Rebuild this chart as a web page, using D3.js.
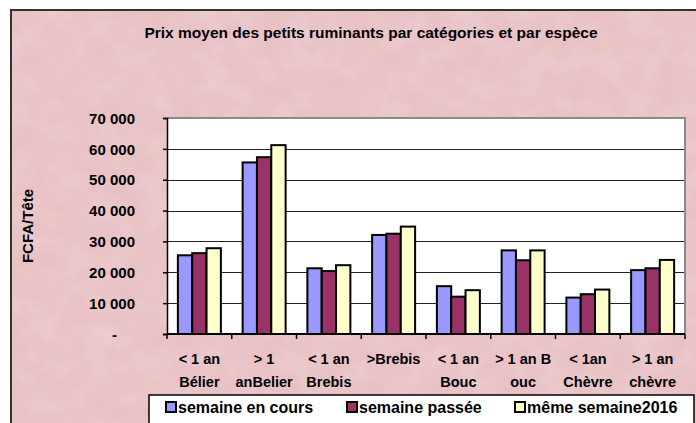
<!DOCTYPE html>
<html>
<head>
<meta charset="utf-8">
<script src="https://cdn.jsdelivr.net/npm/d3@7"></script>
<style>
  body { margin: 0; background: #fff; }
  text { font-family: Arial, "Liberation Sans", sans-serif; font-weight: bold; fill: #000; }
</style>
</head>
<body>
<script>
// chart data
var categories = [
    ["< 1 an", "Bélier"],
    ["> 1", "anBelier"],
    ["< 1 an", "Brebis"],
    [">Brebis", ""],
    ["< 1 an", "Bouc"],
    ["> 1 an B", "ouc"],
    ["< 1an", "Chèvre"],
    ["> 1 an", "chèvre"]
];
var series = ["semaine en cours", "semaine passée", "même semaine2016"];
var colors = ["#9999ff", "#993366", "#ffffcc"];
var enCours = [25500, 55600, 21300, 32100, 15500, 27100, 11800, 20700];
var passee  = [26200, 57300, 20400, 32500, 12100, 23900, 12900, 21300];
var s2016   = [27800, 61200, 22300, 34800, 14200, 27100, 14400, 24000];
var yTicks = [0, 10000, 20000, 30000, 40000, 50000, 60000, 70000];

var values = [enCours, passee, s2016];

// layout
var W = 696, H = 423;
var plot = {l: 167, r: 685, t: 118, b: 334};

var svg = d3.select("body").append("svg")
    .attr("width", W).attr("height", H);

// pink paper texture
var defs = svg.append("defs");
var filt = defs.append("filter").attr("id", "paper")
    .attr("x", 0).attr("y", 0).attr("width", "100%").attr("height", "100%");
filt.append("feTurbulence").attr("type", "fractalNoise")
    .attr("baseFrequency", "0.035 0.04").attr("numOctaves", 3).attr("seed", 7)
    .attr("result", "noise");
filt.append("feColorMatrix").attr("in", "noise").attr("type", "matrix")
    .attr("values", "0 0 0 0 1  0 0 0 0 0.95  0 0 0 0 0.96  0.3 0 0 0 -0.1")
    .attr("result", "spots");
filt.append("feComposite").attr("in", "spots").attr("in2", "SourceGraphic")
    .attr("operator", "over");

svg.append("rect")
    .attr("x", 11).attr("y", 10).attr("width", W - 11).attr("height", H - 10)
    .attr("fill", "#e8c1c4")
    .attr("filter", "url(#paper)");

// outer frame (top + left only, rest is cropped)
svg.append("path")
    .attr("d", "M11," + H + "V10H" + W)
    .attr("fill", "none").attr("stroke", "#333").attr("stroke-width", 2);

// scales
var x = d3.scaleBand()
    .domain(d3.range(categories.length))
    .range([plot.l, plot.r]);
var xs = d3.scaleBand()
    .domain(d3.range(series.length))
    .range([x.bandwidth() * 0.168, x.bandwidth() * 0.832]);
var y = d3.scaleLinear()
    .domain([0, 70000])
    .range([plot.b, plot.t]);

// plot area
svg.append("rect")
    .attr("x", plot.l).attr("y", plot.t)
    .attr("width", plot.r - plot.l).attr("height", plot.b - plot.t)
    .attr("fill", "#fff");

// gridlines
svg.append("g").selectAll("line")
    .data(yTicks.filter(function(d) { return d > 0 && d < 70000; }))
    .join("line")
    .attr("x1", plot.l).attr("x2", plot.r)
    .attr("y1", function(d) { return Math.round(y(d)) + 0.5; })
    .attr("y2", function(d) { return Math.round(y(d)) + 0.5; })
    .attr("stroke", "#222").attr("stroke-width", 1.2);

// plot border top/right in grey
svg.append("path")
    .attr("d", "M" + plot.l + "," + plot.t + "H" + plot.r + "V" + plot.b)
    .attr("fill", "none").attr("stroke", "#8a8a8a").attr("stroke-width", 2);

// bars
var groups = svg.append("g").selectAll("g")
    .data(categories)
    .join("g")
    .attr("transform", function(d, i) { return "translate(" + x(i) + ",0)"; });

groups.selectAll("rect")
    .data(function(d, i) { return values.map(function(v, k) { return {k: k, v: v[i]}; }); })
    .join("rect")
    .attr("x", function(d) { return xs(d.k); })
    .attr("y", function(d) { return y(d.v); })
    .attr("width", xs.bandwidth())
    .attr("height", function(d) { return y(0) - y(d.v); })
    .attr("fill", function(d) { return colors[d.k]; })
    .attr("stroke", "#000").attr("stroke-width", 2);

// y axis
var yAxis = svg.append("g")
    .attr("transform", "translate(" + plot.l + ",0)")
    .call(d3.axisLeft(y).tickValues(yTicks).tickSize(4).tickPadding(28)
        .tickFormat(function(d) { return d === 0 ? "-" : d3.format(",")(d).replace(/,/g, " "); }));
yAxis.select(".domain").attr("stroke", "#000").attr("stroke-width", 1.5);
yAxis.selectAll(".tick line").attr("stroke", "#000").attr("stroke-width", 1.5);
yAxis.selectAll(".tick text")
    .style("font-size", "15px")
    .attr("dy", "0.35em")
    .attr("dx", function(d) { return d === 0 ? -18 : 0; });

// x axis: category boundaries ticks
var xAxis = svg.append("g");
xAxis.append("line")
    .attr("x1", plot.l).attr("x2", plot.r)
    .attr("y1", plot.b).attr("y2", plot.b)
    .attr("stroke", "#000").attr("stroke-width", 2);
xAxis.selectAll("line.tk")
    .data(d3.range(categories.length + 1))
    .join("line").attr("class", "tk")
    .attr("x1", function(i) { return plot.l + i * x.bandwidth(); })
    .attr("x2", function(i) { return plot.l + i * x.bandwidth(); })
    .attr("y1", plot.b).attr("y2", plot.b + 5)
    .attr("stroke", "#000").attr("stroke-width", 1.5);

var xl = xAxis.selectAll("text.cat")
    .data(categories)
    .join("text").attr("class", "cat")
    .attr("text-anchor", "middle")
    .style("font-size", "14.5px")
    .attr("transform", function(d, i) { return "translate(" + (x(i) + x.bandwidth() / 2) + ",364)"; });
xl.append("tspan").attr("x", 0).attr("y", 0).text(function(d) { return d[0]; });
xl.append("tspan").attr("x", 0).attr("y", 23).text(function(d) { return d[1]; });

// y axis title
svg.append("text")
    .attr("transform", "translate(33,226) rotate(-90)")
    .attr("text-anchor", "middle")
    .style("font-size", "15px")
    .text("FCFA/Tête");

// title
svg.append("text")
    .attr("x", 371).attr("y", 38)
    .attr("text-anchor", "middle")
    .style("font-size", "15.5px")
    .text("Prix moyen des petits ruminants par catégories et par espèce");

// legend
var legendX = [166, 347, 515];
svg.append("rect")
    .attr("x", 149).attr("y", 395).attr("width", 545).attr("height", 32)
    .attr("fill", "#fff").attr("stroke", "#000").attr("stroke-width", 1.5);
var leg = svg.append("g").selectAll("g")
    .data(series)
    .join("g")
    .attr("transform", function(d, i) { return "translate(" + legendX[i] + ",402)"; });
leg.append("rect")
    .attr("width", 10).attr("height", 10)
    .attr("fill", function(d, i) { return colors[i]; })
    .attr("stroke", "#000").attr("stroke-width", 2);
leg.append("text")
    .attr("x", 12).attr("y", 11)
    .style("font-size", "16px")
    .text(function(d) { return d; });
</script>
</body>
</html>
